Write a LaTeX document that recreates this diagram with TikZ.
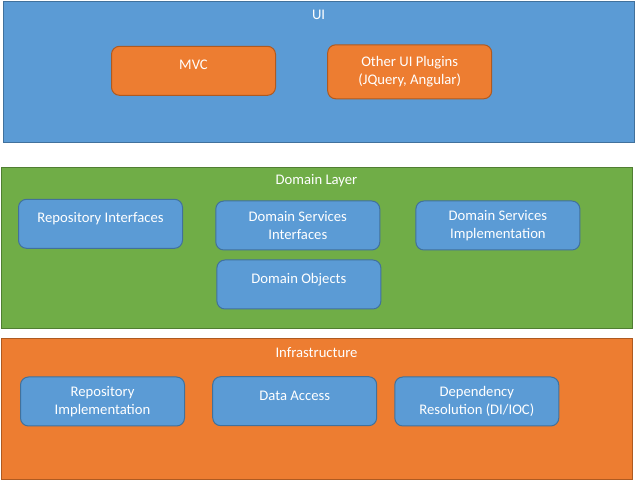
\documentclass[tikz,border=0pt]{standalone}
\usepackage{fontspec}
\setmainfont{Carlito}
\definecolor{uiblue}{HTML}{5B9BD5}
\definecolor{uiblueline}{HTML}{41719C}
\definecolor{orangefill}{HTML}{ED7D31}
\definecolor{orangeline}{HTML}{AE5A21}
\definecolor{greenfill}{HTML}{70AD47}
\definecolor{greenline}{HTML}{507E32}

\begin{document}
\begin{tikzpicture}[x=0.75pt, y=-0.75pt, font=\fontsize{11}{13.5}\selectfont,
  layer/.style={draw, line width=0.75pt, inner sep=0pt, minimum width=473pt},
  title/.style={text=white},
  box/.style={draw=uiblueline, fill=uiblue, line width=0.75pt, rounded corners=6pt,
    minimum width=123pt, minimum height=36.75pt, text=white, align=center},
  obox/.style={box, draw=orangeline, fill=orangefill},
  oneline/.style={text height=7pt, text depth=8.2pt}]
  \useasboundingbox (0,0) rectangle (637,485);
  % UI
  \node[layer, draw=uiblueline, fill=uiblue, minimum height=105.75pt] (ui) at (319.3,71.6) {};
  \node[title] (uiTitle) at (318.6,15) {UI};
  \node[obox, oneline] (mvc) at (193.5,70.8) {MVC};
  \node[obox, minimum height=40.5pt] (plugins) at (409.7,71.8) {Other UI Plugins\\(JQuery, Angular)};
  % Domain layer
  \node[layer, draw=greenline, fill=greenfill, minimum height=120.75pt] (domain) at (316.9,247.8) {};
  \node[title] (domainTitle) at (316.5,181) {Domain Layer};
  \node[box, oneline] (repoIf) at (100.5,223.8) {Repository Interfaces};
  \node[box] (servIf) at (297.8,225.5) {Domain Services\\Interfaces};
  \node[box] (servImpl) at (497.9,225.5) {Domain Services\\Implementation};
  \node[box, oneline] (objects) at (298.9,284.5) {Domain Objects};
  % Infrastructure
  \node[layer, draw=orangeline, fill=orangefill, minimum height=105.75pt] (infra) at (316.9,408.8) {};
  \node[title] (infraTitle) at (316.5,352.5) {Infrastructure};
  \node[box] (repoImpl) at (102.5,401.5) {Repository\\Implementation};
  \node[box, oneline] (dataAccess) at (294.7,401.2) {Data Access};
  \node[box] (depRes) at (476.8,401.5) {Dependency\\Resolution (DI/IOC)};
\end{tikzpicture}
\end{document}
